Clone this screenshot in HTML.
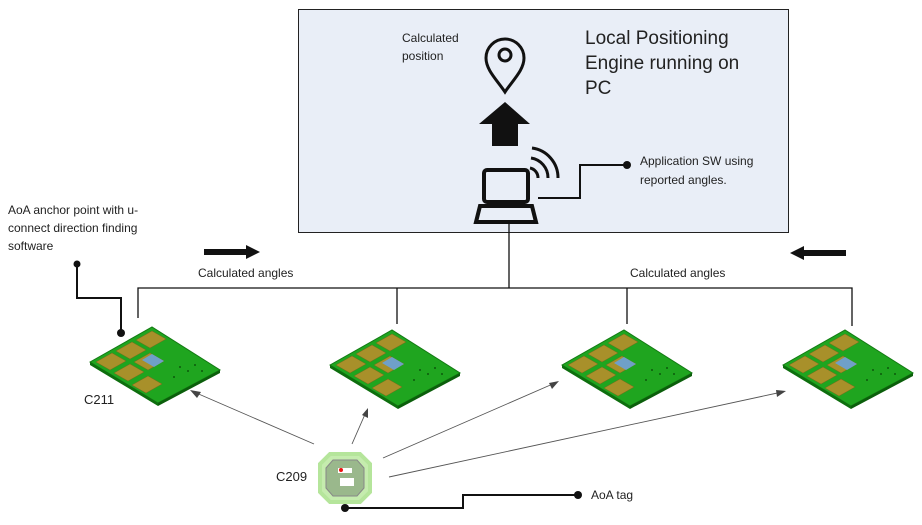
<!DOCTYPE html>
<html><head><meta charset="utf-8"><style>
body{margin:0;background:#fff;width:922px;height:520px;overflow:hidden;font-family:"Liberation Sans",sans-serif}
svg text{font-family:"Liberation Sans",sans-serif;fill:#222}
</style></head><body>
<svg width="922" height="520" viewBox="0 0 922 520" xmlns="http://www.w3.org/2000/svg">
<defs>
<g id="board">
<polygon points="0,35 62,0 130,43 68,76" fill="#1fa51f" stroke="#137a13" stroke-width="1"/>
<polygon points="0,35 68,76 68,79 0,38" fill="#0e6e0e"/>
<polygon points="68,76 130,43 130,46 68,79" fill="#0b5e0b"/>
<g fill="#a8902a" stroke="#7a6a1e" stroke-width="0.5">
<polygon points="6,35 22,26 36,34 20,43"/>
<polygon points="26,24 42,15 56,23 40,32"/>
<polygon points="46,13 62,4 76,12 60,21"/>
<polygon points="24,46 40,37 54,45 38,54"/>
<polygon points="44,35 60,26 74,34 58,43"/>
<polygon points="42,58 58,49 72,57 56,66"/>
</g>
<polygon points="52,33 62,27 74,34 64,40" fill="#6fa0c8"/>
<g fill="#0c5a0c"><circle cx="90" cy="40" r="1"/><circle cx="98" cy="44" r="1"/><circle cx="105" cy="38" r="1"/><circle cx="84" cy="50" r="1"/><circle cx="112" cy="44" r="1"/></g>
</g>
</defs>
<rect x="298.5" y="9.5" width="490" height="223" fill="#e9eef7" stroke="#222" stroke-width="1"/>
<text x="402" y="42" font-size="12">Calculated</text>
<text x="402" y="60" font-size="12">position</text>
<text x="585" y="44" font-size="19">Local Positioning</text>
<text x="585" y="69" font-size="19">Engine running on</text>
<text x="585" y="94" font-size="19">PC</text>
<path d="M505,92 C497,80 486,70 486,58 A19,19 0 0 1 524,58 C524,70 513,80 505,92 Z" fill="none" stroke="#111" stroke-width="3"/>
<circle cx="505" cy="55" r="6" fill="none" stroke="#111" stroke-width="3"/>
<polygon points="505,102 530,124 518,124 518,146 492,146 492,124 479,124" fill="#111"/>
<rect x="484" y="170" width="44" height="32" rx="3" fill="none" stroke="#111" stroke-width="4"/>
<polygon points="476,222 480,206 532,206 536,222" fill="none" stroke="#111" stroke-width="4"/>
<path d="M530,168 A10,10 0 0 1 538,178" fill="none" stroke="#111" stroke-width="3"/>
<path d="M531,158 A20,20 0 0 1 548,178" fill="none" stroke="#111" stroke-width="3"/>
<path d="M532,148 A30,30 0 0 1 558,178" fill="none" stroke="#111" stroke-width="3"/>
<polyline points="538,198 580,198 580,165 627,165" fill="none" stroke="#111" stroke-width="2"/>
<circle cx="627" cy="165" r="4" fill="#111"/>
<text x="640" y="165" font-size="12">Application SW using</text>
<text x="640" y="184" font-size="12">reported angles.</text>
<line x1="509" y1="222" x2="509" y2="288" stroke="#111" stroke-width="1.3"/>
<polyline points="138,318 138,288 852,288 852,326" fill="none" stroke="#111" stroke-width="1.3"/>
<line x1="397" y1="288" x2="397" y2="324" stroke="#111" stroke-width="1.3"/>
<line x1="627" y1="288" x2="627" y2="324" stroke="#111" stroke-width="1.3"/>
<text x="198" y="277" font-size="12">Calculated angles</text>
<text x="630" y="277" font-size="12">Calculated angles</text>
<polygon points="204,249 246,249 246,245 260,252 246,259 246,255 204,255" fill="#111"/>
<polygon points="846,250 804,250 804,246 790,253 804,260 804,256 846,256" fill="#111"/>
<text x="8" y="214" font-size="12">AoA anchor point with u-</text>
<text x="8" y="232" font-size="12">connect direction finding</text>
<text x="8" y="250" font-size="12">software</text>
<polyline points="77,264 77,298 121,298 121,333" fill="none" stroke="#111" stroke-width="2"/>
<circle cx="77" cy="264" r="3.5" fill="#111"/>
<circle cx="121" cy="333" r="4" fill="#111"/>
<use href="#board" transform="translate(90,327)"/>
<use href="#board" transform="translate(330,330)"/>
<use href="#board" transform="translate(562,330)"/>
<use href="#board" transform="translate(783,330)"/>
<text x="84" y="404" font-size="13">C211</text>
<text x="276" y="481" font-size="13">C209</text>
<g stroke="#555" stroke-width="0.9" fill="none">
<line x1="314" y1="444" x2="194" y2="392"/>
<line x1="352" y1="444" x2="366" y2="412"/>
<line x1="383" y1="458" x2="555" y2="383"/>
<line x1="389" y1="477" x2="782" y2="392"/>
</g>
<g fill="#444">
<polygon points="190,390 201,392 197,398"/>
<polygon points="368,408 368,418 362,415"/>
<polygon points="559,381 552,389 549,383"/>
<polygon points="786,391 777,397 776,390"/>
</g>
<polygon points="330,454 360,454 370,464 370,492 360,502 330,502 320,492 320,464" fill="#c5ecae" stroke="#b5e59b" stroke-width="4"/>
<polygon points="333,460 357,460 364,468 364,488 357,496 333,496 326,488 326,468" fill="#9ab88c" stroke="#888" stroke-width="1"/>
<rect x="338" y="468" width="14" height="5" fill="#fff"/>
<circle cx="341" cy="470" r="2" fill="#e11"/>
<rect x="340" y="478" width="14" height="8" fill="#fff"/>
<polyline points="345,508 463,508 463,495 578,495" fill="none" stroke="#111" stroke-width="2"/>
<circle cx="345" cy="508" r="4" fill="#111"/>
<circle cx="578" cy="495" r="4" fill="#111"/>
<text x="591" y="499" font-size="12">AoA tag</text>
</svg>
</body></html>
